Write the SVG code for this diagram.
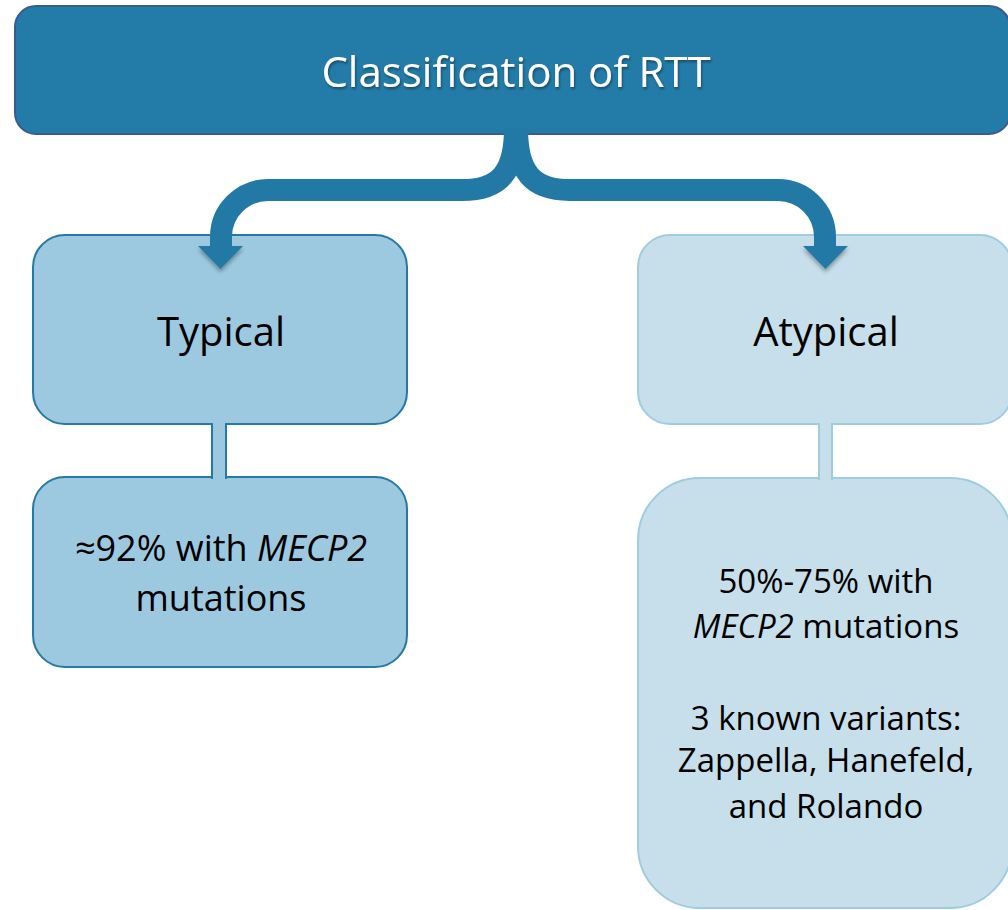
<svg xmlns="http://www.w3.org/2000/svg" width="1008" height="910" viewBox="0 0 1008 910">
  <style>
    .title { font-family: "Open Sans", "Liberation Sans", sans-serif; font-size: 42px; fill: #ffffff; text-anchor: middle; }
    .label { font-family: "Open Sans", "Liberation Sans", sans-serif; fill: #000000; text-anchor: middle; }
    .head { font-size: 40px; }
    .body-l { font-size: 36px; }
    .body-r { font-size: 33px; }
    .dark { fill: #9DC9E0; stroke: #2678A5; stroke-width: 2; }
    .light { fill: #C6DFEB; stroke: #A0CCE2; stroke-width: 2; }
    .band { fill: none; stroke: #2379A6; stroke-width: 22; }
    .tip { fill: #2379A6; }
  </style>
  <defs>
    <filter id="textShadow" x="-10%" y="-30%" width="120%" height="160%">
      <feDropShadow dx="1" dy="2" stdDeviation="1.2" flood-color="#0a2a40" flood-opacity="0.6"/>
    </filter>
    <filter id="tipShadow" x="-50%" y="-50%" width="200%" height="200%">
      <feDropShadow dx="0" dy="3" stdDeviation="2" flood-color="#000000" flood-opacity="0.35"/>
    </filter>
  </defs>

  <rect width="1008" height="910" fill="#ffffff"/>

  <!-- root -->
  <g id="root">
    <rect x="15" y="6" width="995" height="128" rx="21" ry="21" fill="#237BA7" stroke="#3B5A91" stroke-width="2"/>
    <text class="title" x="516" y="87" filter="url(#textShadow)">Classification of RTT</text>
  </g>

  <!-- typical branch -->
  <g id="typical">
    <rect class="dark" x="33" y="235" width="374" height="189" rx="32" ry="32"/>
    <text class="label head" x="221" y="346">Typical</text>
  </g>
  <g id="typical-detail">
    <rect class="dark" x="33" y="477" width="374" height="190" rx="32" ry="32"/>
    <text class="label body-l" x="221" y="561">≈92% with <tspan font-style="italic">MECP2</tspan></text>
    <text class="label body-l" x="221" y="611">mutations</text>
  </g>

  <!-- atypical branch -->
  <g id="atypical">
    <rect class="light" x="638" y="235" width="374" height="189" rx="32" ry="32"/>
    <text class="label head" x="826" y="346">Atypical</text>
  </g>
  <g id="atypical-detail">
    <rect class="light" x="638" y="478" width="374" height="430" rx="62" ry="62"/>
    <text class="label body-r" x="826" y="593">50%-75% with</text>
    <text class="label body-r" x="826" y="638"><tspan font-style="italic">MECP2</tspan> mutations</text>
    <text class="label body-r" x="826" y="730">3 known variants:</text>
    <text class="label body-r" x="826" y="772">Zappella, Hanefeld,</text>
    <text class="label body-r" x="826" y="818">and Rolando</text>
  </g>

  <!-- links between the boxes, drawn over them -->
  <g id="connectors">
    <path class="band" d="M515,128 C515,172 500,190 462,190 L268,190 A47,47 0 0 0 221,237 L221,248"/>
    <path class="band" d="M517,128 C517,172 532,190 570,190 L778,190 A47,47 0 0 1 825,237 L825,248"/>
    <polygon class="tip" filter="url(#tipShadow)" points="198,246 243,246 220.5,269"/>
    <polygon class="tip" filter="url(#tipShadow)" points="803,246 848,246 825.5,269"/>
    <!-- short bars joining each pair of stacked boxes -->
    <rect x="212" y="421" width="14" height="60" fill="#9DC9E0"/>
    <path d="M212,423 V479 M226,423 V479" stroke="#2678A5" stroke-width="2" fill="none"/>
    <rect x="819" y="421" width="13" height="60" fill="#C6DFEB"/>
    <path d="M819,423 V480 M832,423 V480" stroke="#A0CCE2" stroke-width="2" fill="none"/>
  </g>
</svg>
